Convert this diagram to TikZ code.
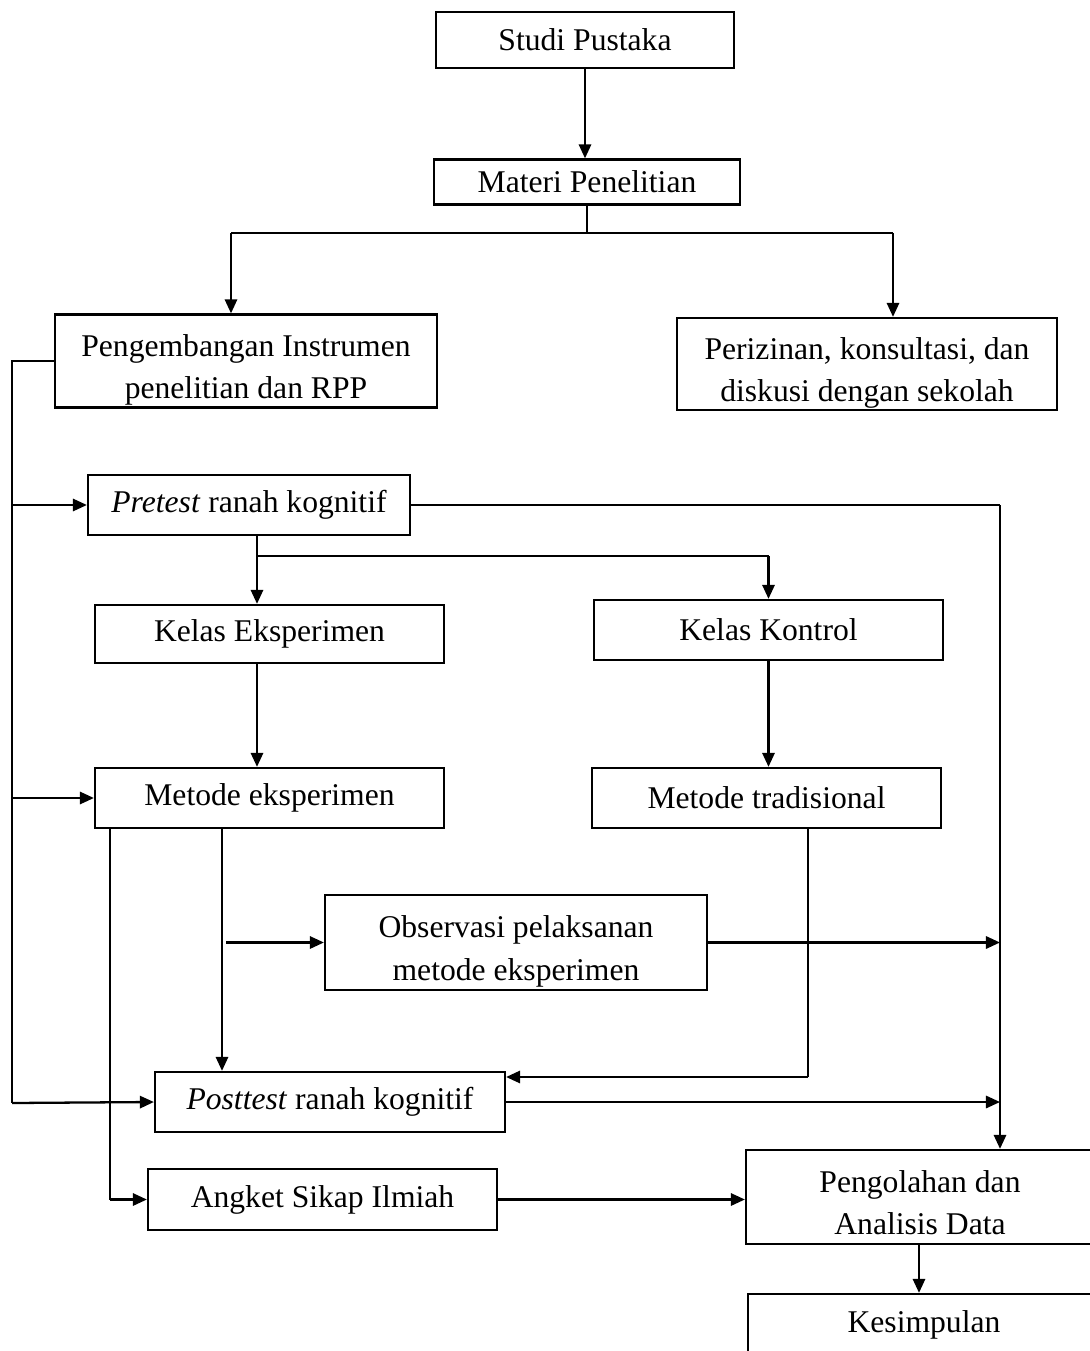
\documentclass[tikz,border=0pt]{standalone}
\usepackage{fontspec}
\setmainfont{Liberation Serif}
\usetikzlibrary{arrows.meta}

% two lines of text, set a little lower in their box
\newcommand{\twolines}[2]{\raisebox{-4.5pt}[\height][\depth]{\begin{tabular}{@{}c@{}}#1\\#2\end{tabular}}}

\begin{document}
\begin{tikzpicture}[%
  x=0.02cm, y=-0.02cm, % one unit = one pixel of the sketch
  every node/.style={rectangle, draw=black, line width=1.3pt, align=center, inner sep=0pt, font=\fontsize{18}{24.4}\selectfont},
  arr/.style={-{Triangle[length=8pt,width=7pt]}, line width=1.3pt}, % Arrows into boxes
  thinline/.style={line width=0.6pt} % Plain joining lines
]
\useasboundingbox (0,0) rectangle (1089,1351);

% Top
\node (studi) [minimum width=5.96cm, minimum height=1.12cm] at (585,40) {Studi Pustaka};
\node (materi) [minimum width=6.12cm, minimum height=0.9cm] at (587,182) {Materi Penelitian};

% Preparation
\node (peng) [minimum width=7.64cm, minimum height=1.86cm] at (246,361) {\twolines{Pengembangan Instrumen}{penelitian dan RPP}};
\node (periz) [minimum width=7.6cm, minimum height=1.84cm] at (867,364) {\twolines{Perizinan, konsultasi, dan}{diskusi dengan sekolah}};

% Classes
\node (pretest) [minimum width=6.44cm, minimum height=1.2cm] at (249,505) {\textit{Pretest} ranah kognitif};
\node (kelasEks) [minimum width=6.98cm, minimum height=1.16cm] at (269.5,634) {Kelas Eksperimen};
\node (kontrol) [minimum width=6.98cm, minimum height=1.2cm] at (768.5,630) {Kelas Kontrol};
\node (metEks) [minimum width=6.98cm, minimum height=1.2cm] at (269.5,798) {Metode eksperimen};
\node (metTrad) [minimum width=6.98cm, minimum height=1.2cm] at (766.5,798) {Metode tradisional};
\node (observasi) [minimum width=7.64cm, minimum height=1.9cm] at (516,942.5) {\twolines{Observasi pelaksanan}{metode eksperimen}};

% Data
\node (posttest) [minimum width=7cm, minimum height=1.2cm] at (330,1102) {\textit{Posttest} ranah kognitif};
\node (angket) [minimum width=6.98cm, minimum height=1.22cm] at (322.5,1199.5) {Angket Sikap Ilmiah};
\node (pengolahan) [minimum width=6.96cm, minimum height=1.88cm] at (920,1197) {\twolines{Pengolahan dan}{Analisis Data}};
\node (kesimpulan) [minimum width=7.04cm, minimum height=1.24cm] at (924,1325) {Kesimpulan};

% Joints
\coordinate (split) at (587,233);
\coordinate (splitL) at (231,233);
\coordinate (splitR) at (893,233);
\coordinate (leftBot) at (12,1103);
\coordinate (hub) at (1000,505);
\coordinate (fork) at (257,556);
\coordinate (eksDrop) at (222,828);
\coordinate (obsTap) at (226,942.5);
\coordinate (angketDrop) at (110,828);
\coordinate (tradDrop) at (808,828);
\coordinate (tradTurn) at (808,1077);
\coordinate (endDrop) at (919,1244);

\draw[arr] (studi.south) -- (studi.south |- materi.north);
\draw[thinline] (materi.south) -- (split);
\draw[thinline] (splitL) -- (splitR);
\draw[arr] (splitL) -- (splitL |- peng.north);
\draw[arr] (splitR) -- (splitR |- periz.north);

% Left feed line
\draw[thinline] (peng.west) -| (leftBot);
\draw[arr] (leftBot |- pretest.west) -- (pretest.west);
\draw[arr] (leftBot |- metEks.west) -- (metEks.west);
\draw[arr] (leftBot) -- (posttest.west);

% Right collecting line
\draw[thinline] (pretest.east) -- (hub);
\draw[arr] (hub) -- (hub |- pengolahan.north);

\draw[arr] (pretest.south -| fork) -- (fork |- kelasEks.north);
\draw[thinline] (fork) -- (fork -| kontrol.north);
\draw[arr] (fork -| kontrol.north) -- (kontrol.north);
\draw[arr] (kelasEks.south -| fork) -- (fork |- metEks.north);
\draw[arr] (kontrol.south) -- (kontrol.south |- metTrad.north);

\draw[arr] (eksDrop) -- (eksDrop |- posttest.north);
\draw[arr] (obsTap) -- (observasi.west);
\draw[arr] (observasi.east) -- (observasi.east -| hub);

\draw[thinline] (angketDrop) -- (angketDrop |- angket.west);
\draw[arr] (angketDrop |- angket.west) -- (angket.west);

\draw[thinline] (tradDrop) -- (tradTurn);
\draw[arr] (tradTurn) -- (tradTurn -| posttest.east);

\draw[arr] (posttest.east) -- (posttest.east -| hub);
\draw[arr] (angket.east) -- (angket.east -| pengolahan.west);
\draw[arr] (endDrop) -- (endDrop |- kesimpulan.north);

\end{tikzpicture}
\end{document}
